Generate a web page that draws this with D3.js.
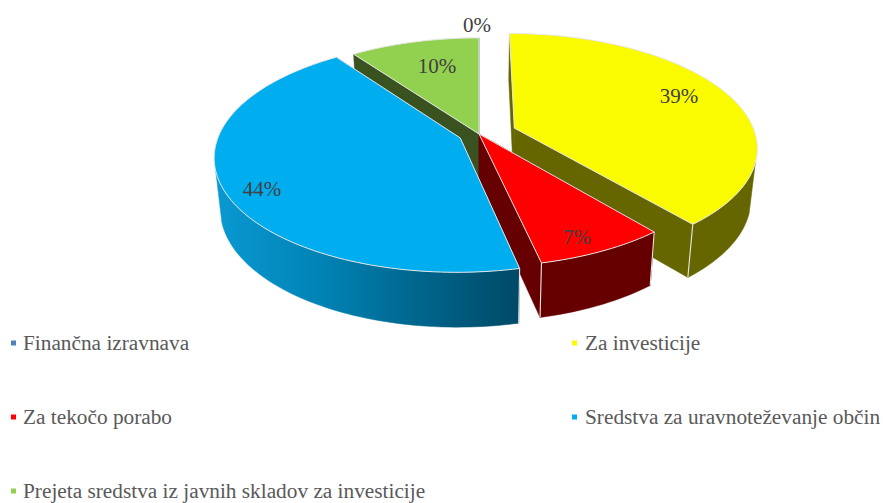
<!DOCTYPE html>
<html><head><meta charset="utf-8">
<style>html,body{margin:0;padding:0;background:#fff}svg{display:block}</style>
<script src="https://cdn.jsdelivr.net/npm/d3@7/dist/d3.min.js"></script>
</head><body><svg id="c" width="883" height="503"></svg>
<script>
const categories = ["Finančna izravnava","Za investicije","Za tekočo porabo","Sredstva za uravnoteževanje občin","Prejeta sredstva iz javnih skladov za investicije"];
const shares = [0, 39.0, 7.49, 43.51, 10.0];
const sliceColors = ["#4f81bd","#fbfb00","#ff0000","#00adef","#92d050"];
const wallColors = ["#2f4d71","#666600","#660000","#0090c8","#3a5220"];
const explosions = [0, 0.157, 0, 0.085, 0];
const paintOrder = [0, 4, 1, 2, 3];
const labelSpots = [[477,25],[679,96],[577,237],[262,189],[437,66]];
const legendSpots = [[11,343],[572,343],[11,417],[572,417],[11,491]];

const svg = d3.select("#c");
const VX=479, VY=134, A=241, B=111.5, K=0.16, H0=50, CY=1.035, CX=0.977;
const persp = y => 1/(1+K*y);
const topPt = (x,y) => [VX+A*x*persp(y), VY-B*y*persp(y)];
const botPt = (x,y) => { const p=topPt(x,y); return [VX+(p[0]-VX)*CX, VY+H0+(p[1]-VY)*CY]; };
const line = d3.line();
const pie = d3.pie().sort(null).value(d=>d).startAngle(0).endAngle(2*Math.PI);
const arcs = pie(shares);

const defs = svg.append("defs");
const grad = defs.append("linearGradient").attr("id","bw").attr("gradientUnits","userSpaceOnUse")
  .attr("x1",214).attr("x2",517).attr("y1",0).attr("y2",0);
[[0,"#0a99d2"],[0.35,"#0083b5"],[0.7,"#00638a"],[1,"#004a68"]].forEach(s=>grad.append("stop").attr("offset",s[0]).attr("stop-color",s[1]));

const edge = "#e6e6e6";
paintOrder.forEach(i=>{
  const a=arcs[i];
  if(a.endAngle-a.startAngle<1e-6) return;
  const mid=(a.startAngle+a.endAngle)/2, ex=explosions[i]*Math.sin(mid), ey=explosions[i]*Math.cos(mid);
  const n=Math.max(8,Math.round((a.endAngle-a.startAngle)*40));
  const angs=d3.range(n+1).map(t=>a.startAngle+(a.endAngle-a.startAngle)*t/n);
  const rim=angs.map(t=>[ex+Math.sin(t),ey+Math.cos(t)]);
  const apex=[ex,ey];
  const g=svg.append("g");
  const wall=wallColors[i];
  const face=(d,fill)=>g.append("path").attr("d",d).attr("fill",fill).attr("stroke",fill).attr("stroke-width",0.5);
  const quad=(p,q)=>line([topPt(...p),topPt(...q),botPt(...q),botPt(...p)])+"Z";
  // radial faces
  face(quad(apex,rim[0]),wall);
  face(quad(apex,rim[n]),wall);
  // outer face, only the forward part
  const front=rim.filter(p=>p[1]-ey<-0.28);
  if(front.length>1){
    const d=line(front.map(p=>topPt(...p)).concat(front.slice().reverse().map(p=>botPt(...p))))+"Z";
    face(d, i===3?"url(#bw)":wall);
    [front[0],front[front.length-1]].forEach(c=>{ if(c===rim[0]||c===rim[n]) g.append("path").attr("d",line([topPt(...c),botPt(...c)])).attr("stroke",edge).attr("stroke-width",1.1).attr("fill","none"); });
  }
  const top=line([topPt(...apex)].concat(rim.map(p=>topPt(...p))))+"Z";
  g.append("path").attr("d",top).attr("fill",sliceColors[i]).attr("stroke",edge).attr("stroke-width",1).attr("stroke-linejoin","round");
});

svg.append("g").selectAll("text").data(arcs).join("text")
  .attr("x",(d,i)=>labelSpots[i][0]).attr("y",(d,i)=>labelSpots[i][1]).attr("dy","0.35em")
  .attr("text-anchor","middle").attr("font-family","'Liberation Serif',serif").attr("font-size",21).attr("fill","#404040")
  .text(d=>d3.format(".0f")(d.value)+"%");

const leg=svg.append("g").selectAll("g").data(categories).join("g").attr("transform",(d,i)=>`translate(${legendSpots[i][0]},${legendSpots[i][1]})`);
leg.append("rect").attr("x",0).attr("y",-2.5).attr("width",5).attr("height",5).attr("fill",(d,i)=>sliceColors[i]);
leg.append("text").attr("x",(d,i)=>i%2?13:12).attr("y",7).attr("font-family","'Liberation Serif',serif").attr("font-size",21.3).attr("fill","#595959").text(d=>d);
</script></body></html>
